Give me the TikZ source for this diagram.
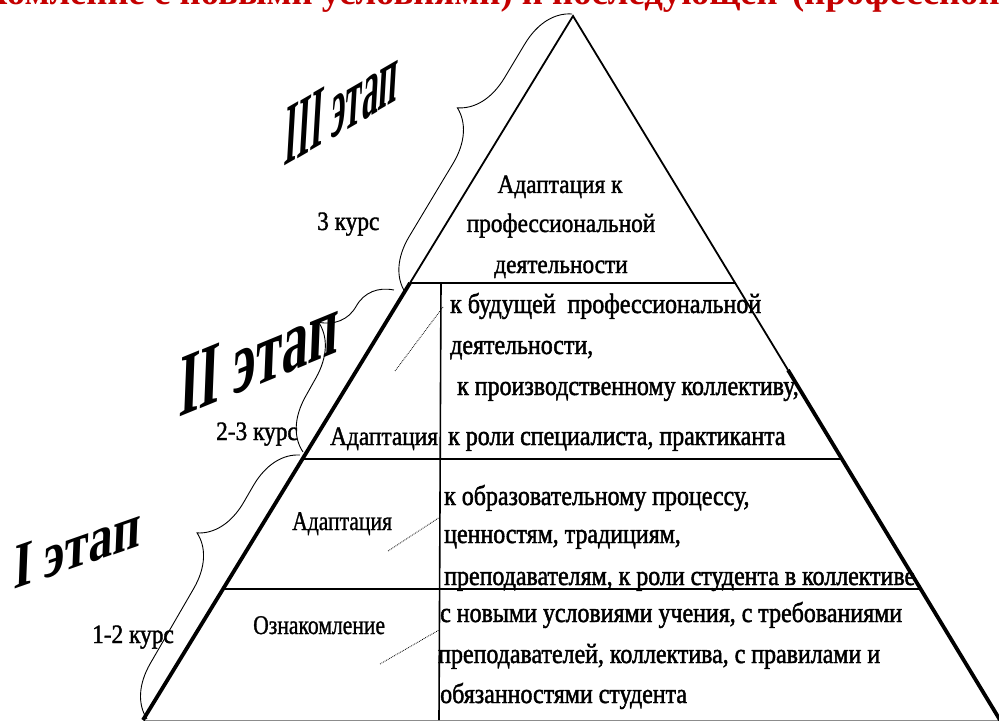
\documentclass[tikz,border=0pt]{standalone}
\usepackage{fontspec}
\usepackage{graphicx}
\setmainfont{Liberation Serif}
\newfontfamily\bodyfont[FakeStretch=0.88,FakeBold=1.4]{Liberation Serif}
\newfontfamily\rightfont[FakeStretch=0.855,FakeBold=1.6]{Liberation Serif}
\newfontfamily\lblfont[FakeStretch=0.8,FakeBold=1.0]{Liberation Serif}
\usetikzlibrary{decorations.pathreplacing}
\definecolor{titlered}{RGB}{196,0,0}
\begin{document}
\begin{tikzpicture}[x=1pt,y=-1pt,
  thinedge/.style={line width=1.8pt, line join=miter},
  thickedge/.style={line width=3.8pt},
  rule/.style={line width=1.6pt},
  floorline/.style={line width=1pt, black!45},
  bracket/.style={decorate, decoration={brace, amplitude=50pt, aspect=#1}, line width=0.9pt},
  ptr/.style={line width=0.8pt, densely dotted},
  body/.style={font=\bodyfont\fontsize{26.5}{30}\selectfont, inner sep=0pt, anchor=base west},
  cbody/.style={body, anchor=base},
  rbody/.style={font=\rightfont\fontsize{28}{30}\selectfont, inner sep=0pt, anchor=base west},
  lbody/.style={font=\lblfont\fontsize{27}{30}\selectfont, inner sep=0pt, anchor=base west},
  stage/.style={font=\bfseries, inner sep=0pt, anchor=base west},
  titletext/.style={font=\fontsize{36.7}{40}\selectfont\bfseries, text=titlered, inner sep=0pt}
]
\useasboundingbox (0,0) rectangle (999,722);
\fill[white] (0,0) rectangle (999,722);
\begin{scope}
  \clip (0,0) rectangle (999,722);
  \node[titletext, anchor=base east] (title1) at (778,5) {ознакомление с новыми условиями) и последующей};
  \node[titletext, anchor=base west] (title2) at (792,5) {(профессиональной};
\end{scope}

% key points of the pyramid
\coordinate (A) at (573,16);
\coordinate (BL) at (143,720);
\coordinate (BR) at (1000,720);
\coordinate (L1) at (410,283);
\coordinate (R1) at (735,283);
\coordinate (Rk) at (788,370);
\coordinate (L2) at (302,459);
\coordinate (R2) at (842,459);
\coordinate (L3) at (223,589);
\coordinate (R3) at (921,589);
\coordinate (D1) at (441,283);
\coordinate (D2) at (439,720);

% texts
\node[cbody] (t1) at (560,193) {Адаптация к};
\node[cbody] (t2) at (561,232) {профессиональной};
\node[cbody] (t3) at (561,273) {деятельности};

\node[rbody] (m1) at (450,313) {к будущей\ \ профессиональной};
\node[rbody] (m2) at (450,354) {деятельности,};
\node[rbody] (m3) at (457,395) {к производственному коллективу,};
\node[rbody] (m4) at (448,445) {к роли специалиста, практиканта};
\node[body] (ml) at (330,445) {Адаптация};

\node[rbody] (a1) at (444,505) {к образовательному процессу,};
\node[rbody] (a2) at (444,543) {ценностям, традициям,};
\node[rbody] (a3) at (444,585) {преподавателям, к роли студента в коллективе};
\node[lbody] (al) at (292,530) {Адаптация};

\node[rbody] (o1) at (440,622) {с новыми условиями учения, с требованиями};
\node[rbody] (o2) at (438,663) {преподавателей, коллектива, с правилами и};
\node[rbody] (o3) at (440,703) {обязанностями студента};
\node[lbody] (ol) at (253,634) {Ознакомление};

\node[body] (k3) at (317,230) {3 курс};
\node[body] (k23) at (216,440) {2-3 курс};
\node[body] (k12) at (92,643) {1-2 курс};

% stage labels
\node[stage, yslant=0.58, xslant=0.06] (s3) at (283,167) {\resizebox{114pt}{56pt}{III этап}};
\node[stage, yslant=0.41, xslant=0.04] (s2) at (178,418) {\resizebox{160pt}{58pt}{II этап}};
\node[stage, yslant=0.35, xslant=0.04] (s1) at (13,590) {\resizebox{127pt}{42pt}{I этап}};

% pyramid lines
\draw[floorline] (BL) -- (BR);
\draw[rule] (L1) -- (R1);
\draw[rule] (L2) -- (R2);
\draw[rule] (L3) -- (R3);
\draw[rule] (D1) -- (D2);
\draw[thinedge] (L1) -- (A) -- (Rk);
\draw[thickedge] (L1) -- (BL);
\draw[thickedge] (Rk) -- (BR);

% pointers
\coordinate (p1a) at (395,371); \coordinate (p1b) at (443,307);
\coordinate (p2a) at (388,551); \coordinate (p2b) at (440,517);
\coordinate (p3a) at (380,664); \coordinate (p3b) at (439,630);
\draw[ptr] (p1a) -- (p1b);
\draw[ptr] (p2a) -- (p2b);
\draw[ptr] (p3a) -- (p3b);

% braces
\coordinate (b1s) at (405,292); \coordinate (b1e) at (572,14);
\coordinate (b2s) at (303,452); \coordinate (b2e) at (394,290);
\coordinate (b3s) at (147,719); \coordinate (b3e) at (300,455);
\draw[bracket=0.57] (b1s) -- (b1e);
\draw[bracket=0.65] (b2s) -- (b2e);
\draw[bracket=0.61] (b3s) -- (b3e);
\end{tikzpicture}
\end{document}
